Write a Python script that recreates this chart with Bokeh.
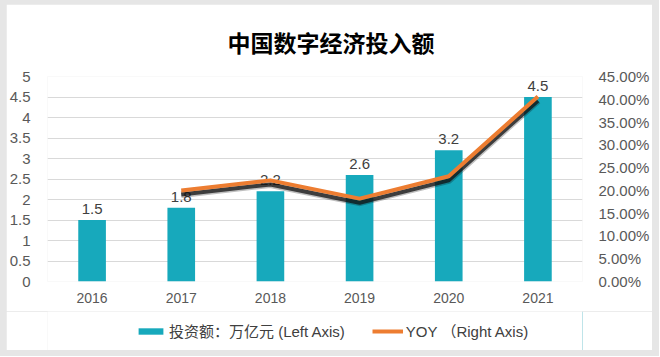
from bokeh.plotting import figure
from bokeh.layouts import column, row
from bokeh.models import (FactorRange, Range1d, LinearAxis, NumeralTickFormatter,
                          SingleIntervalTicker, Legend, LegendItem, ColumnDataSource, Spacer)
from bokeh.core.properties import value
from bokeh.embed import file_html
from bokeh.resources import INLINE

years = ["2016", "2017", "2018", "2019", "2020", "2021"]
invest = [1.5, 1.8, 2.2, 2.6, 3.2, 4.5]
invest_labels = ["1.5", "1.8", "2.2", "2.6", "3.2", "4.5"]
yoy_years = ["2017", "2018", "2019", "2020", "2021"]
yoy = [0.200, 0.222, 0.182, 0.231, 0.406]

FONT = "'Liberation Sans', 'Noto Sans CJK SC', sans-serif"
TEAL = "#17a9bc"
ORANGE = "#ed7d31"
GRAY_BG = "#e6e6e6"

p = figure(x_range=FactorRange(*years), y_range=Range1d(0, 5),
           width=646, height=307, output_backend="svg", toolbar_location=None,
           min_border_left=40, min_border_right=69, min_border_top=71,
           min_border_bottom=30, border_fill_color="white", background_fill_color="white")
p.extra_y_ranges = {"pct": Range1d(0, 0.45)}

p.title.text = "中国数字经济投入额"
p.title.align = "left"
p.title.offset = 180
p.title.text_font = "Noto Sans CJK SC"
p.title.text_font_size = "23px"
p.title.text_font_style = "bold"
p.title.text_color = "#000000"
p.title.standoff = 36

p.outline_line_color = None
p.xgrid.grid_line_color = None
p.ygrid.grid_line_color = "#d9d9d9"
p.ygrid.ticker = SingleIntervalTicker(interval=0.5)

p.yaxis.ticker = SingleIntervalTicker(interval=0.5)
p.yaxis.formatter = NumeralTickFormatter(format="0.[0]")
for ax in [p.xaxis[0], p.yaxis[0]]:
    ax.axis_line_color = None
    ax.major_tick_line_color = None
    ax.minor_tick_line_color = None
    ax.major_label_text_font = FONT
    ax.major_label_text_color = "#595959"
p.yaxis.major_label_text_font_size = "15px"
p.xaxis.major_label_text_font_size = "14px"
p.yaxis.major_label_standoff = 11
p.xaxis.major_label_standoff = 5

right = LinearAxis(y_range_name="pct", ticker=SingleIntervalTicker(interval=0.05),
                   formatter=NumeralTickFormatter(format="0.00%"))
right.axis_line_color = None
right.major_tick_line_color = None
right.minor_tick_line_color = None
right.major_label_text_font = FONT
right.major_label_text_font_size = "15px"
right.major_label_text_color = "#595959"
right.major_label_standoff = 10
p.add_layout(right, "right")

src = ColumnDataSource(dict(x=years, y=invest, lab=invest_labels))
p.vbar(x="x", top="y", width=0.31, source=src, fill_color=TEAL, line_color=None)
p.text(x="x", y="y", text="lab", source=src, text_align="center",
       text_baseline="bottom", y_offset=-6, text_font=value(FONT),
       text_font_size="15px", text_color="#404040")

shadow_y = [v - 0.009 for v in yoy]
p.line(yoy_years, shadow_y, y_range_name="pct", line_color="#000000",
       line_width=7, line_alpha=0.25, line_join="round")
p.line(yoy_years, shadow_y, y_range_name="pct", line_color="#111111",
       line_width=4, line_alpha=0.75, line_join="round")
p.line(yoy_years, yoy, y_range_name="pct", line_color=ORANGE,
       line_width=4, line_join="round")

# legend strip below the chart
lg = figure(width=646, height=39, x_range=Range1d(0, 1), y_range=Range1d(0, 1),
            output_backend="svg", toolbar_location=None,
            x_axis_type=None, y_axis_type=None,
            min_border_left=40, min_border_right=69, min_border_top=0, min_border_bottom=0,
            border_fill_color="white", background_fill_color="white")
lg.outline_line_color = None
lg.xgrid.visible = False
lg.ygrid.visible = False
leg_bar = lg.vbar(x=[5], top=[1], width=0.3, fill_color=TEAL, line_color=None)
leg_line = lg.line(x=[5, 6], y=[0, 0], line_color=ORANGE, line_width=4)
legend = Legend(items=[LegendItem(label="投资额：万亿元 (Left Axis)", renderers=[leg_bar]),
                       LegendItem(label="YOY （Right Axis)", renderers=[leg_line])],
                orientation="horizontal", location=(88, 9),
                label_text_font=FONT, label_text_font_size="15px",
                label_text_color="#404040", glyph_width=31, glyph_height=8,
                label_height=16, spacing=27, label_standoff=3, border_line_color=None,
                background_fill_alpha=0, padding=2, margin=0)
lg.add_layout(legend, "center")

inner = column(Spacer(height=4), p, lg, Spacer(height=6), spacing=0)
layout = row(Spacer(width=6), inner, Spacer(width=7), spacing=0, background=GRAY_BG)
open("out.html", "w").write(file_html(layout, INLINE))
